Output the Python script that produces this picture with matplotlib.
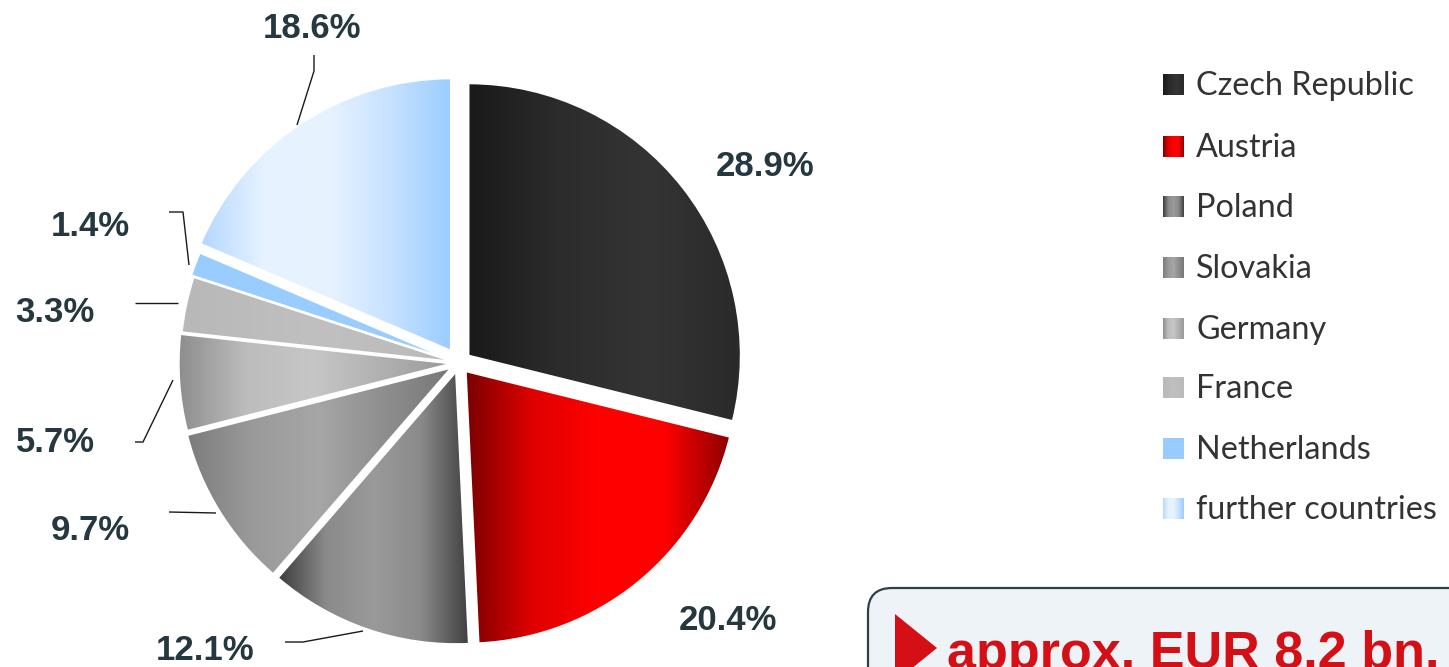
import numpy as np
import matplotlib
matplotlib.use("Agg")
import matplotlib.pyplot as plt
from matplotlib.colors import LinearSegmentedColormap
from matplotlib.patches import FancyBboxPatch, Polygon

# ---- data ----
countries = ["Czech Republic", "Austria", "Poland", "Slovakia", "Germany",
             "France", "Netherlands", "further countries"]
shares = [28.9, 20.4, 12.1, 9.7, 5.7, 3.3, 1.4, 18.6]
pct_labels = ["28.9%", "20.4%", "12.1%", "9.7%", "5.7%", "3.3%", "1.4%", "18.6%"]
headline = "approx. EUR 8.2 bn."

# ---- styles ----
gradients = [
    ["#1a1a1a", "#2c2c2c", "#343434", "#2a2a2a"],
    ["#7a0000", "#e00000", "#ff0000", "#ff0000", "#8c0000"],
    ["#3c3c3c", "#8a8a8a", "#9a9a9a", "#8a8a8a", "#404040"],
    ["#7c7c7c", "#9a9a9a", "#a6a6a6", "#8e8e8e", "#777777"],
    ["#8e8e8e", "#bdbdbd", "#c6c6c6", "#b0b0b0", "#9a9a9a"],
    ["#b8b8b8", "#c0c0c0", "#bababa"],
    ["#99ccff", "#99ccff"],
    ["#b4d8ff", "#e6f2ff", "#e8f3ff", "#c8e2ff", "#9bcdff"],
]
explode_frac = [0.045, 0.04, 0.035, 0.035, 0.03, 0.025, 0.035, 0.055]
label_color = "#253840"
R = 272

W, H = 1449, 667
fig = plt.figure(figsize=(W / 100, H / 100), dpi=100)
ax = fig.add_axes([0, 0, 1, 1])

def py(y):
    return H - y

wedges, _ = ax.pie(shares, explode=[e * R for e in explode_frac], startangle=90,
                   counterclock=False, center=(459, py(363)), radius=R,
                   wedgeprops=dict(edgecolor="white", linewidth=1.2))

def grad_image(stops, n=256):
    cmap = LinearSegmentedColormap.from_list("g", stops)
    return cmap(np.linspace(0, 1, n))[None, :, :]

for w, stops in zip(wedges, gradients):
    cx, cy = w.center
    t = np.radians(np.linspace(w.theta1, w.theta2, 300))
    xs = np.concatenate([[cx], cx + w.r * np.cos(t)])
    ys = np.concatenate([[cy], cy + w.r * np.sin(t)])
    im = ax.imshow(grad_image(stops), extent=(xs.min(), xs.max(), ys.min(), ys.max()),
                   aspect="auto", interpolation="bilinear", zorder=1)
    im.set_clip_path(w)
    w.set_facecolor("none")
    w.set_zorder(2)

# ---- percentage labels with leader lines ----
label_pos = [(765, 166), (728, 620), (205, 650), (90, 530), (55, 443),
             (55, 313), (90, 226), (312, 28)]
leaders = [
    None,
    None,
    [(285, 642), (303, 642), (363, 631)],
    [(169, 512), (216, 513)],
    [(135, 442), (143, 442), (173, 380)],
    [(135, 303), (178, 303)],
    [(169, 212), (183, 212), (189, 265)],
    [(314, 55), (314, 71), (297, 125)],
]
for txt, (x, y), ld in zip(pct_labels, label_pos, leaders):
    ax.text(x, py(y), txt, ha="center", va="center", fontsize=25,
            fontweight="bold", family="Liberation Sans", color=label_color, zorder=5)
    if ld:
        ax.plot([p[0] for p in ld], [py(p[1]) for p in ld], color="#1a1a1a",
                lw=1.0, zorder=4, solid_capstyle="butt")

# ---- legend (gradient squares) ----
leg_rows = [85, 147, 207, 268, 329, 388, 449, 509]
for name, stops, yr in zip(countries, gradients, leg_rows):
    ax.imshow(grad_image(stops), extent=(1163, 1184, py(yr + 10.5), py(yr - 10.5)),
              aspect="auto", interpolation="bilinear", zorder=3)
    ax.text(1196, py(yr + 1), name, ha="left", va="center", fontsize=23.3,
            family="Lato", color="#333333", zorder=3)

# ---- headline box ----
box = FancyBboxPatch((868, py(760)), 700, 172, boxstyle="round,pad=0,rounding_size=24",
                     facecolor="#edf3f6", edgecolor="#2f4048", linewidth=1.6, zorder=2)
ax.add_patch(box)
tri = Polygon([(895, py(614)), (937, py(648)), (895, py(682))], closed=True,
              facecolor="#d50f16", edgecolor="none", zorder=3)
ax.add_patch(tri)
ax.text(947, py(668), headline, ha="left", va="baseline", fontsize=37.5,
        fontweight="bold", family="Liberation Sans", color="#d50f16", zorder=3)

ax.set_xlim(0, W)
ax.set_ylim(0, H)
ax.set_aspect("auto")
ax.axis("off")
fig.savefig("out.png", dpi=100)
